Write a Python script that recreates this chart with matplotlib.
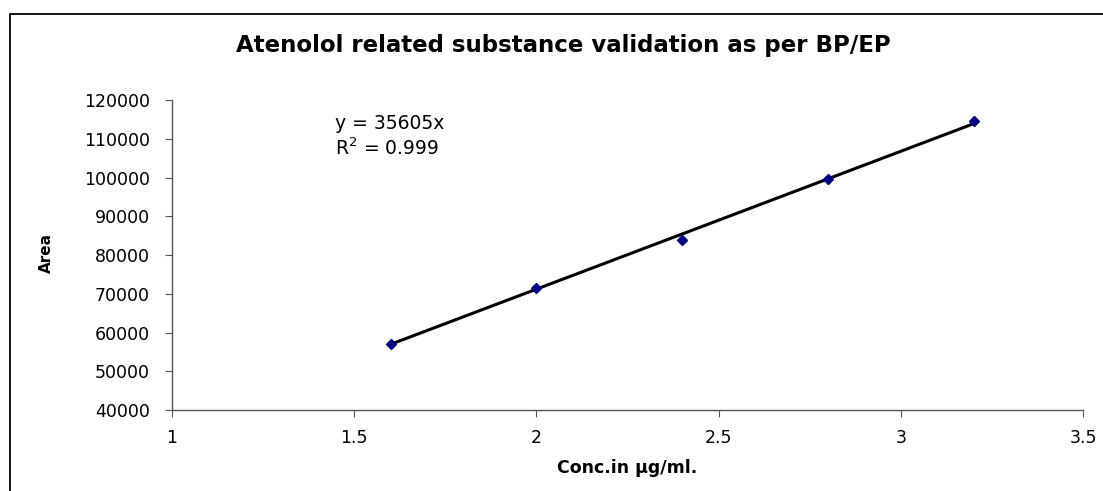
#atenolol calibration chart

#libraries
import numpy as np
from matplotlib import pyplot as plt
from matplotlib.patches import Rectangle

plt.rcParams['font.family'] = ['DejaVu Sans']

#data
conc = [1.6, 2.0, 2.4, 2.8, 3.2]
area = [57000, 71500, 84000, 99600, 114700]
slope = 35605
r2 = 0.999

#trend line through origin, drawn over the data range
x_fit = np.array([min(conc), max(conc)])
y_fit = slope * x_fit

fig = plt.figure(figsize=(11.03, 4.91), dpi=100)
ax = fig.add_axes([0.156, 0.165, 0.826, 0.631])

ax.plot(x_fit, y_fit, color='black', lw=2.2, zorder=2)
ax.plot(conc, area, 'D', color='#000080', markersize=5.5, zorder=3)

ax.set_xlim(1, 3.5)
ax.set_ylim(40000, 120000)
ax.set_xticks([1, 1.5, 2, 2.5, 3, 3.5])
ax.set_xticklabels(['1', '1.5', '2', '2.5', '3', '3.5'])
ax.set_yticks(range(40000, 120001, 10000))

for s in ['top', 'right']:
  ax.spines[s].set_visible(False)
for s in ['left', 'bottom']:
  ax.spines[s].set_color('#555555')
  ax.spines[s].set_linewidth(1)
ax.tick_params(direction='out', length=5, color='#555555', labelsize=12.5)
ax.tick_params(axis='y', pad=11)
ax.tick_params(axis='x', pad=9)

ax.set_xlabel('Conc.in \u00b5g/ml.', fontsize=12.5, fontweight='bold', labelpad=8)
fig.text(46/1103, 1 - 253/491, 'Area', rotation=90, ha='center', va='center',
         fontsize=11, fontweight='bold')

ax.text(0.1785, 0.926, 'y = %dx' % slope, transform=ax.transAxes,
        fontsize=13.5, va='center')
ax.text(0.1785, 0.845, 'R$^2$ = %.3f' % r2, transform=ax.transAxes,
        fontsize=13.5, va='center')

fig.text(0.511, 0.908, 'Atenolol related substance validation as per BP/EP',
         ha='center', va='center', fontsize=16.5, fontweight='bold')

#chart border like the spreadsheet frame
fig.patches.append(Rectangle((10/1103, -0.05), 1.2, 1 - 14/491 + 0.05,
                             transform=fig.transFigure, fill=False,
                             edgecolor='black', lw=1.3))

plt.savefig('out.png', dpi=100)
